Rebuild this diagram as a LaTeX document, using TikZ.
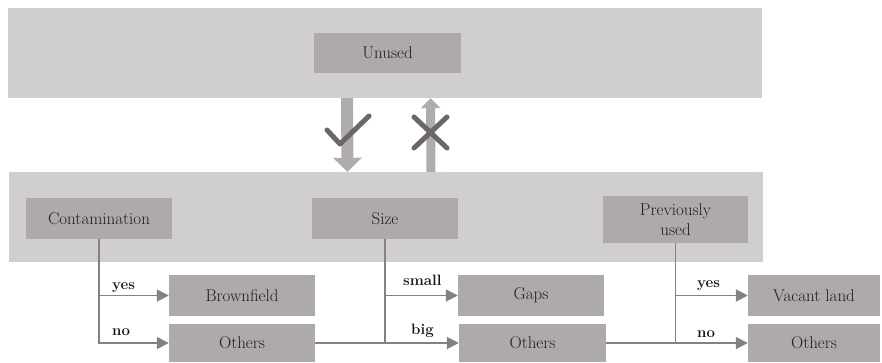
\documentclass[tikz,border=0pt]{standalone}
\usetikzlibrary{arrows.meta,calc}
\definecolor{bandgray}{HTML}{D0CECF}
\definecolor{boxgray}{HTML}{AEAAA9}
\definecolor{linegray}{HTML}{858181}
\definecolor{markgray}{HTML}{6B6767}
\definecolor{arrowgray}{HTML}{B0ACAB}
\definecolor{textgray}{HTML}{1E1E1E}
\begin{document}
\begin{tikzpicture}[x=1pt,y=-1pt,
  band/.style={fill=bandgray, draw=none, minimum width=754pt, minimum height=90pt, inner sep=0pt},
  box/.style={fill=boxgray, draw=none, minimum width=146pt, minimum height=41pt, inner sep=0pt,
    font=\rmfamily\fontsize{17}{20}\selectfont, text=textgray, align=center},
  conn/.style={draw=linegray, line width=1.8pt},
  arr/.style={conn, -{Triangle[length=12pt,width=12pt]}},
  lbl/.style={font=\rmfamily\fontsize{15}{15}\selectfont\bfseries, text=black!90, anchor=base west, inner sep=0pt},
  symstroke/.style={draw=markgray, line width=5pt, line cap=round, line join=round}
]
\useasboundingbox (0,0) rectangle (882,362);
% bands
\node[band] (top) at (385,53) {};
\node[band] (bot) at (385.5,217) {};
% boxes
\node[box, minimum width=147pt, minimum height=40pt] (unused) at (387.5,53) {Unused};
\node[box] (cont) at (99,218.5) {Contamination};
\node[box] (size) at (385,218.5) {Size};
\node[box, minimum width=145pt, minimum height=47pt] (prev) at (675.5,219.5) {Previously\\used};
\node[box] (brown) at (242,295.5) {Brownfield};
\node[box, minimum height=38pt] (oth1) at (242,343) {Others};
\node[box] (gaps) at (531,295.5) {Gaps};
\node[box, minimum width=147pt, minimum height=38pt] (oth2) at (532.5,343) {Others};
\node[box, minimum width=132pt] (vac) at (814,295.5) {Vacant land};
\node[box, minimum width=132pt, minimum height=38pt] (oth3) at (814,343) {Others};
% fat arrows between bands
\draw[arrowgray, line width=12pt, -{Triangle[length=14pt,width=28pt]}]
  ($(top.south)+(-38,0)$) -- ($(bot.north)+(-38,0)$);
\draw[arrowgray, line width=9pt, -{Triangle[length=10pt,width=19pt]}]
  ($(bot.north)+(45.5,0)$) -- ($(top.south)+(45.5,0)$);
% check and cross
\draw[symstroke] (327,130) -- (340,144) -- (369,116);
\draw[symstroke] (414,117) -- (447,148);
\draw[symstroke] (414,148) -- (447,117);
% connectors
\draw[arr] (cont.south) |- (oth1.west);
\draw[arr] (cont.south |- brown.west) -- (brown.west);
\draw[conn] (oth1.east) -- (size.south |- oth1.east);
\draw[arr] (size.south) |- (oth2.west);
\draw[arr] (size.south |- gaps.west) -- (gaps.west);
\draw[conn] (oth2.east) -- (prev.south |- oth2.east);
\draw[arr] (prev.south) |- (oth3.west);
\draw[arr] (prev.south |- vac.west) -- (vac.west);
% labels
\node[lbl] (l1) at (112,289) {yes};
\node[lbl] (l2) at (112,335) {no};
\node[lbl] (l3) at (403,285) {small};
\node[lbl] (l4) at (411,334) {big};
\node[lbl] (l5) at (697,287) {yes};
\node[lbl] (l6) at (697,337) {no};
\end{tikzpicture}
\end{document}
